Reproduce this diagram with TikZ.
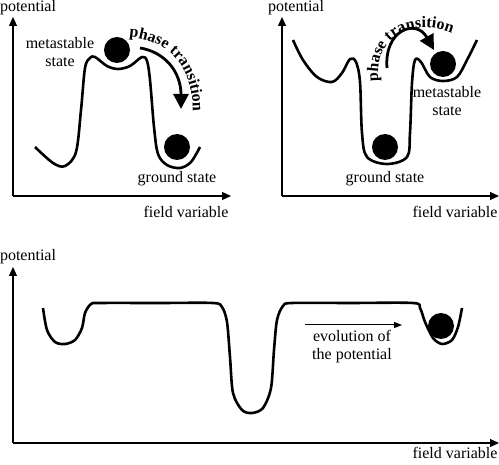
\documentclass[tikz,border=0pt]{standalone}
\usepackage{fontspec}
\setmainfont{Liberation Serif}
\usetikzlibrary{arrows.meta,decorations.text}

\tikzset{
  axis/.style={line width=1.3pt,-{Triangle[width=8pt,length=9pt]}},
  curve/.style={line width=2.6pt,line join=round},
  ball/.style={circle,fill=black,minimum size=26pt,inner sep=0pt},
  lbl/.style={font=\fontsize{16}{18}\selectfont,align=center,inner sep=0pt},
  jump/.style={line width=2.8pt,-{Triangle[width=15pt,length=15pt]}},
}

\begin{document}
\begin{tikzpicture}[x=1pt,y=-1pt]
\useasboundingbox (0,0) rectangle (499,465);

%%% top left: decay into the ground state
% axes
\coordinate (o1) at (13,196);
\coordinate (ya1) at (13,17);
\coordinate (xa1) at (231,196);
\draw[axis] (o1) -- (ya1);
\draw[axis] (o1) -- (xa1);
\node[lbl] (pot1) at (28,8) {potential};
\node[lbl] (fv1) at (186,212) {field variable};

% potential curve
\draw[curve] plot[smooth,tension=0.55] coordinates {(35,147) (53,163) (65,166) (76,152) (81,110) (85,68) (90,58) (95,57) (107,66) (118,69) (130,66) (142,57) (147,61) (150,80) (154,127) (158,154) (167,165) (180,168) (191,162) (200,147)};

% balls and labels
\node[ball] (meta1) at (117,50) {};
\node[ball] (gnd1) at (177,147) {};
\node[lbl] (metal1) at (60,52) {metastable\\state};
\node[lbl] (gndl1) at (177,179) {ground state};

% phase transition
\coordinate (pt1a) at (140,48);
\coordinate (pt1b) at (181,109);
\draw[jump] (pt1a) .. controls (165,52) and (181,72) .. (pt1b);
\path[decorate,decoration={text along path,text align=center,
  text={|\fontsize{16}{18}\selectfont\bfseries|phase transition}}]
  (129,37) .. controls (168,40) and (193,66) .. (193,112);

%%% top right: jump out of the metastable state
% axes
\coordinate (o2) at (282,196);
\coordinate (ya2) at (282,17);
\coordinate (xa2) at (499,196);
\draw[axis] (o2) -- (ya2);
\draw[axis] (o2) -- (xa2);
\node[lbl] (pot2) at (296,8) {potential};
\node[lbl] (fv2) at (455,212) {field variable};

% potential curve
\draw[curve] plot[smooth,tension=0.55] coordinates {(293,40) (303,60) (317,77) (332,82) (342,73) (350,59) (356,62) (360,82) (362,133) (367,157) (387,164) (407,157) (410,133) (412,83) (415,60) (421,62) (430,77) (443,81) (457,77) (467,60) (477,40)};

% balls and labels
\node[ball] (gnd2) at (385,147) {};
\node[ball] (meta2) at (443,64) {};
\node[lbl] (metal2) at (447,101) {metastable\\state};
\node[lbl] (gndl2) at (385,179) {ground state};

% phase transition
\coordinate (pt2a) at (387,68);
\coordinate (pt2b) at (434,50);
\draw[jump] (pt2a) .. controls (384,30) and (416,18) .. (pt2b);
\path[decorate,decoration={text along path,text align=center,
  text={|\fontsize{16}{18}\selectfont\bfseries|phase transition}}]
  (378,78) .. controls (376,38) and (408,18) .. (449,32);

%%% bottom: evolution of the potential
% axes
\coordinate (o3) at (13,443);
\coordinate (ya3) at (13,267);
\coordinate (xa3) at (499,443);
\draw[axis] (o3) -- (ya3);
\draw[axis] (o3) -- (xa3);
\node[lbl] (pot3) at (28,257) {potential};
\node[lbl] (fv3) at (455,453) {field variable};

% potential curve
\draw[curve] plot[smooth,tension=0.5] coordinates {(43,308) (47,330) (55,342) (65,344) (75,340) (82,328) (85,313) (91,304) (100,303) (160,303) (213,303) (222,307) (227,322) (230,357) (233,393) (242,410) (252,413) (263,408) (271,388) (274,350) (277,320) (283,306) (292,303) (350,303) (413,303) (420,308) (425,322) (433,338) (442,344) (452,340) (458,327) (462,308)};

% ball
\node[ball] (meta3) at (441,326) {};

% evolution arrow
\coordinate (ev1) at (305,325);
\coordinate (ev2) at (402,325);
\draw[line width=1pt,-{Triangle[width=6pt,length=8pt]}] (ev1) -- (ev2);
\node[lbl] (evl) at (352,347) {evolution of\\the potential};

\end{tikzpicture}
\end{document}
